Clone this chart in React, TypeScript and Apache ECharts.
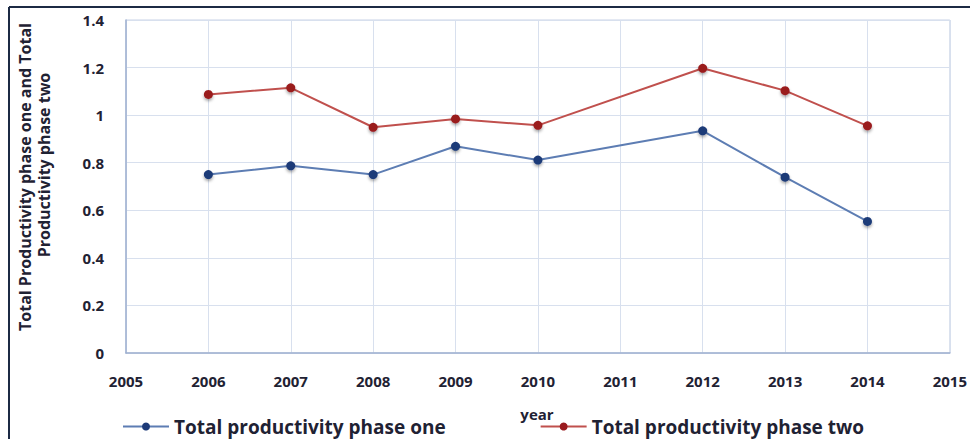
import React, { useEffect, useRef } from "react";
import * as echarts from "echarts";

const years = [2006, 2007, 2008, 2009, 2010, 2012, 2013, 2014];
const phaseOne = [0.75, 0.787, 0.75, 0.869, 0.811, 0.934, 0.739, 0.553];
const phaseTwo = [1.087, 1.115, 0.949, 0.984, 0.957, 1.197, 1.103, 0.955];
const seriesNames = ["Total productivity phase one", "Total productivity phase two"];
const yTitleLines = ["Total Productivity phase one and Total", "Productivity phase two"];
const xTitle = "year";

export default function App() {
  const ref = useRef<HTMLDivElement>(null);
  useEffect(() => {
    const chart = echarts.init(ref.current!, null, { renderer: "svg" });
    const font = "'Open Sans', 'DejaVu Sans', sans-serif";
    const mk = (name: string, vals: number[], line: string, dot: string) => ({
      name,
      type: "line",
      data: years.map((y, i) => [y, vals[i]]),
      symbol: "circle",
      symbolSize: 9,
      lineStyle: { color: line, width: 2 },
      itemStyle: {
        color: dot,
        shadowColor: "rgba(0,0,0,0.35)",
        shadowBlur: 3,
        shadowOffsetY: 2,
      },
    });
    chart.setOption({
      animation: false,
      backgroundColor: "#ffffff",
      grid: { left: 126, right: 18, top: 20, bottom: 86, show: true, borderColor: "#c9d3e6", borderWidth: 1 },
      xAxis: {
        type: "value",
        min: 2005,
        max: 2015,
        interval: 1,
        axisLine: { show: true, lineStyle: { color: "#9fb0d0", width: 1.5 } },
        axisTick: { show: false },
        splitLine: { show: true, lineStyle: { color: "#d8e0ee", width: 1 } },
        axisLabel: {
          formatter: (v: number) => String(v),
          color: "#1f2233",
          fontFamily: font,
          fontWeight: "bold",
          fontSize: 15,
          margin: 20,
        },
      },
      yAxis: {
        type: "value",
        min: 0,
        max: 1.4,
        interval: 0.2,
        axisLine: { show: true, lineStyle: { color: "#9fb0d0", width: 1.5 } },
        axisTick: { show: false },
        splitLine: { show: true, lineStyle: { color: "#d8e0ee", width: 1 } },
        axisLabel: {
          color: "#1f2233",
          fontFamily: font,
          fontWeight: "bold",
          fontSize: 15,
          margin: 22,
        },
      },
      legend: {
        left: 117,
        top: 412,
        itemWidth: 46,
        itemHeight: 10,
        itemGap: 94,
        data: seriesNames,
        textStyle: { color: "#1f2233", fontFamily: font, fontSize: 19, fontWeight: "bold" },
      },
      graphic: [
        {
          type: "text",
          x: 25,
          y: 177,
          rotation: Math.PI / 2,
          style: {
            text: yTitleLines[0],
            fill: "#1f2233",
            font: `bold 16px ${font}`,
            align: "center",
            verticalAlign: "middle",
          },
        },
        {
          type: "text",
          x: 44,
          y: 165,
          rotation: Math.PI / 2,
          style: {
            text: yTitleLines[1],
            fill: "#1f2233",
            font: `bold 16px ${font}`,
            align: "center",
            verticalAlign: "middle",
          },
        },
        {
          type: "text",
          x: 537,
          y: 414,
          style: {
            text: xTitle,
            fill: "#1f2233",
            font: `bold 15px ${font}`,
            align: "center",
            verticalAlign: "middle",
          },
        },
        {
          type: "line",
          shape: { x1: 9, y1: 7, x2: 970, y2: 7 },
          style: { stroke: "#1c2a44", lineWidth: 2 },
        },
        {
          type: "line",
          shape: { x1: 9, y1: 7, x2: 9, y2: 439 },
          style: { stroke: "#1c2a44", lineWidth: 2 },
        },
      ],
      series: [
        mk(seriesNames[0], phaseOne, "#5d7db3", "#1d3a78"),
        mk(seriesNames[1], phaseTwo, "#c0504d", "#9a1b1f"),
      ],
    });
    return () => chart.dispose();
  }, []);
  return <div ref={ref} style={{ width: 970, height: 439, position: "absolute", left: 0, top: 0 }} />;
}
